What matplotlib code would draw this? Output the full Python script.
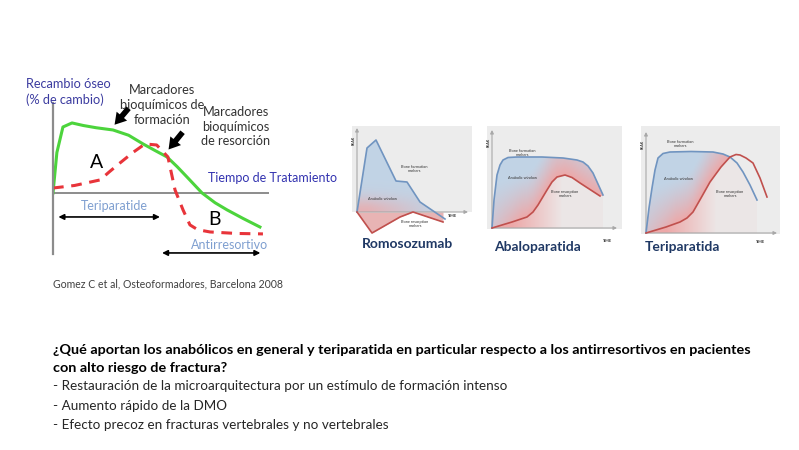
import numpy as np
import matplotlib
matplotlib.use("Agg")
import matplotlib.pyplot as plt
from matplotlib.patches import Rectangle

W, H = 799, 450

# ---------------- data: left chart (time %, change %) ----------------
formation_t = [0, 1.8, 4.6, 8.8, 14, 20, 27.8, 35, 41.7, 47, 52.8, 57.5, 62, 69, 75, 80.6, 88, 95.8]
formation_v = [0, 27, 44, 46.7, 45, 43.5, 42, 38.5, 32.7, 28.5, 24, 17.5, 10.7, 0, -6.5, -11.3, -17, -22.7]
resorption_t = [0, 10, 21.8, 26, 31, 37, 42.6, 48, 53.2, 56.5, 60.2, 63.4, 67, 72.7, 85, 97.2]
resorption_v = [3.3, 5, 8.7, 14, 20, 27, 32.7, 32, 24, 2, -11.3, -21.3, -24.5, -26, -27, -27.3]

# ---------------- data: small panels (time, level) ----------------
romo_form_t = [0, 10, 19, 39, 50, 63, 88]
romo_form_v = [0, 64, 72, 31, 30, 10, -7]
romo_res_t = [0, 15, 43, 56, 86]
romo_res_v = [0, -21, -5, 0, -10]

abalo_form_t = [0, 2, 5, 8, 11, 16, 25, 50, 71, 85, 91, 96, 101, 106, 111]
abalo_form_v = [0, 28, 53, 63, 68, 70.5, 71, 71, 70, 68, 66, 62, 55, 44, 33]
abalo_res_t = [0, 20, 35, 41, 46, 55, 60, 65, 73, 80, 88, 98, 108]
abalo_res_v = [0, 6, 11, 16, 23, 38, 46, 51, 53, 50.5, 45, 38.5, 32]

teri_form_t = [0, 3, 6, 9, 12, 17, 24, 45, 67, 77, 84, 91, 97, 104, 111]
teri_form_v = [0, 25, 45, 63, 75, 79.5, 81, 81.5, 81, 79, 76, 70, 61, 48, 33]
teri_res_t = [0, 20, 34, 41, 47, 55, 64, 75, 84, 90, 94, 100, 107, 114, 121]
teri_res_v = [0, 6, 11, 15, 21, 35, 51, 66, 76, 78.5, 78, 75, 70, 55, 36]

panel_names = ["Romosozumab", "Abaloparatida", "Teriparatida"]

question = ["¿Qué aportan los anabólicos en general y teriparatida en particular respecto a los antirresortivos en pacientes",
            "con alto riesgo de fractura?"]
bullets = ["- Restauración de la microarquitectura por un estímulo de formación intenso",
           "- Aumento rápido de la DMO",
           "- Efecto precoz en fracturas vertebrales y no vertebrales"]

FONT = ["Lato", "DejaVu Sans"]
plt.rcParams['font.family'] = FONT

fig = plt.figure(figsize=(W / 100, H / 100), dpi=100)
fig.patch.set_facecolor("white")


def add_ax(x0, y0, x1, y1):
    return fig.add_axes([x0 / W, 1 - y1 / H, (x1 - x0) / W, (y1 - y0) / H])


def ftext(x, y, s, **kw):
    return fig.text(x / W, 1 - y / H, s, **kw)


# ---------------- left chart ----------------
ax = add_ax(53, 103, 269, 254)
ax.set_xlim(0, 100)
ax.set_ylim(-40.7, 60)
ax.set_facecolor("none")
for s in ["top", "right", "bottom"]:
    ax.spines[s].set_visible(False)
ax.spines["left"].set_color("#8c8c8c")
ax.spines["left"].set_linewidth(1.6)
ax.set_xticks([])
ax.set_yticks([])
ax.axhline(0, color="#8c8c8c", lw=1.4, xmin=0, xmax=1.0)
ax.plot(formation_t, formation_v, color="#4cd43c", lw=2.2, solid_joinstyle="round")
ax.plot(resorption_t, resorption_v, color="#e8343a", lw=2.2, dashes=(3.5, 2.5))
# double arrows
ax.annotate("", xy=(2.5, -16), xytext=(49.5, -16),
            arrowprops=dict(arrowstyle="<|-|>", color="black", lw=1.2, mutation_scale=8, shrinkA=0, shrinkB=0))
ax.annotate("", xy=(50.5, -40), xytext=(96, -40), annotation_clip=False,
            arrowprops=dict(arrowstyle="<|-|>", color="black", lw=1.2, mutation_scale=8, shrinkA=0, shrinkB=0))
ax.text(28.5, -9, "Teriparatide", ha="center", va="center", color="#7f9fd0", fontsize=9)
ax.text(81.5, -34.5, "Antirresortivo", ha="center", va="center", color="#7f9fd0", fontsize=9)
ax.text(20, 20, "A", ha="center", va="center", color="black", fontsize=14)
ax.text(75, -18, "B", ha="center", va="center", color="black", fontsize=14)
# thick black arrows
ax.annotate("", xy=(28.5, 45.5), xytext=(35, 56.5), annotation_clip=False,
            arrowprops=dict(arrowstyle="simple,head_width=1.1,head_length=0.9,tail_width=0.45",
                            color="black", lw=0, mutation_scale=9, shrinkA=0, shrinkB=0))
ax.annotate("", xy=(53.5, 29), xytext=(60, 40.5), annotation_clip=False,
            arrowprops=dict(arrowstyle="simple,head_width=1.1,head_length=0.9,tail_width=0.45",
                            color="black", lw=0, mutation_scale=9, shrinkA=0, shrinkB=0))

ftext(26, 84, "Recambio óseo", color="#3c3ca0", fontsize=9.2, va="center")
ftext(26, 100, "(% de cambio)", color="#3c3ca0", fontsize=9.2, va="center")
ftext(162, 105, "Marcadores\nbioquímicos de\nformación", color="#333333", fontsize=9.2,
      ha="center", va="center", linespacing=1.25)
ftext(236, 127, "Marcadores\nbioquímicos\nde resorción", color="#333333", fontsize=9.2,
      ha="center", va="center", linespacing=1.25)
ftext(208, 178, "Tiempo de Tratamiento", color="#3333b0", fontsize=9.0, va="center")
ftext(53, 284, "Gomez C et al, Osteoformadores, Barcelona 2008", color="#404040", fontsize=7.6, va="center")

# ---------------- small panels ----------------
BLUE_L = np.array([0.76, 0.83, 0.90])
RED_L = np.array([0.93, 0.66, 0.66])
BG_RGB = np.array([0.925, 0.925, 0.925])
BG = "#ececec"


def gradient_rgba(ft, fv, rt, rv, mode, nx=200, ny=150):
    xmax, ymax = max(ft), max(fv)
    xs = np.linspace(0, xmax, nx)
    ys = np.linspace(0, ymax, ny)
    X, Y = np.meshgrid(xs, ys)
    if mode == "romo":
        t = np.exp(-(Y / 14.0) ** 2) * np.clip(1.15 - X / 70.0, 0, 1) * 0.8
        img = BLUE_L * (1 - t[..., None]) + RED_L * t[..., None]
        return img, (0, xmax, 0, ymax)
    r = np.interp(xs, rt, rv)[None, :] * np.ones_like(Y)
    above = Y >= r
    d = (Y - r)
    t_above = np.clip(1 - d / 45.0, 0, 1) ** 1.3 * np.clip(0.4 + X / 50.0, 0, 1)
    t = np.where(above, t_above, 1.0)
    img = BLUE_L * (1 - t[..., None]) + RED_L * t[..., None]
    # under the red curve fade towards the background further right
    fade = np.where(above, 0.0, np.clip((X - 20) / 55.0, 0, 0.92))
    img = img * (1 - fade[..., None]) + BG_RGB * fade[..., None]
    return img, (0, xmax, 0, ymax)


def panel(box, x_end, y_top, ft, fv, rt, rv, name, name_xy, mode, labels, time_xy, bg_bottom):
    x0, y0, x1, y1, ox, oy = box
    a = add_ax(x0, y0, x1, y1)
    xlim = (x0 - ox, x1 - ox)
    ylim = (oy - y1, oy - y0)
    a.set_xlim(*xlim)
    a.set_ylim(*ylim)
    a.axis("off")
    a.add_patch(Rectangle((xlim[0], bg_bottom), xlim[1] - xlim[0], ylim[1] - bg_bottom,
                          facecolor=BG, edgecolor="none", zorder=0))
    img, ext = gradient_rgba(ft, fv, rt, rv, mode)
    pc = a.fill_between(ft, fv, 0, color="none")
    im = a.imshow(img, extent=ext, origin="lower", aspect="auto", zorder=1, interpolation="bilinear")
    im.set_clip_path(pc.get_paths()[0], transform=a.transData)
    if mode == "romo":
        a.fill_between(rt, rv, 0, color="#e8b4b4", zorder=1, lw=0)
    a.set_xlim(*xlim)
    a.set_ylim(*ylim)
    a.annotate("", xy=(0, y_top), xytext=(0, 0),
               arrowprops=dict(arrowstyle="-|>", color="#a8a8a8", lw=0.8, mutation_scale=5, shrinkA=0, shrinkB=0))
    a.annotate("", xy=(x_end, 0), xytext=(0, 0),
               arrowprops=dict(arrowstyle="-|>", color="#a8a8a8", lw=0.8, mutation_scale=5, shrinkA=0, shrinkB=0))
    a.plot(ft, fv, color="#7094c0", lw=1.2, zorder=3)
    a.plot(rt, rv, color="#c0504d", lw=1.2, zorder=3)
    for (lx, ly, s) in labels:
        a.text(lx, ly, s, fontsize=2.8, color="#333333", ha="center", va="center", zorder=4)
    a.text(-3.5, y_top - 12, "PEAK", fontsize=2.6, color="#333333", rotation=90, ha="center", va="center",
           fontweight="bold")
    a.text(time_xy[0], time_xy[1], "TIME", fontsize=2.8, color="#333333", ha="center", va="center",
           fontweight="bold")
    ftext(name_xy[0], name_xy[1], name, color="#1f3864", fontsize=10, fontweight="bold",
          ha="center", va="center")


panel((352, 126, 472, 236, 357, 212), 111, 84, romo_form_t, romo_form_v, romo_res_t, romo_res_v,
      panel_names[0], (408, 244), "romo",
      [(57, 43, "Bone formation\nmarkers"), (26, 13, "Anabolic window"), (58, -12, "Bone resorption\nmarkers")],
      (96, -4), 0)
panel((487, 126, 622, 242, 492, 228), 125, 98, abalo_form_t, abalo_form_v, abalo_res_t, abalo_res_v,
      panel_names[1], (537, 247), "abalo",
      [(30, 75, "Bone formation\nmarkers"), (31, 50, "Anabolic window"), (73, 34, "Bone resorption\nmarkers")],
      (116, -13), -1)
panel((641, 126, 780, 245, 646, 233), 131, 101, teri_form_t, teri_form_v, teri_res_t, teri_res_v,
      panel_names[2], (682, 247), "teri",
      [(34, 89, "Bone formation\nmarkers"), (33, 54, "Anabolic window"), (84, 39, "Bone resorption\nmarkers")],
      (115, -9), -1)

# ---------------- bottom text ----------------
ftext(53, 350, question[0], fontsize=10.4, fontweight="bold", color="black", va="center")
ftext(53, 368, question[1], fontsize=10.4, fontweight="bold", color="black", va="center")
for i, b in enumerate(bullets):
    ftext(53, 386 + i * 19.5, b, fontsize=9.7, color="#262626", va="center")

fig.savefig("out.png", dpi=100)
